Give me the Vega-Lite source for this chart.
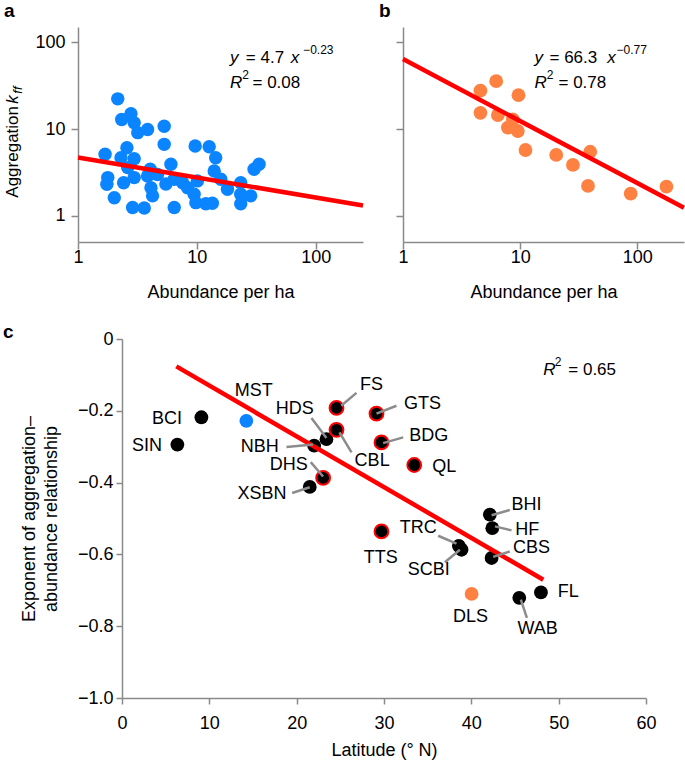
{
  "$schema": "https://vega.github.io/schema/vega-lite/v6.json",
  "description": "Aggregation versus abundance (a, b) and exponent versus latitude (c)",
  "padding": {"left": 3, "top": 2, "right": 0, "bottom": 0},
  "config": {
    "font": "Liberation Sans",
    "view": {"stroke": null},
    "axis": {
      "grid": false,
      "domainColor": "#8a8a8a",
      "tickColor": "#8a8a8a",
      "domainWidth": 1.5,
      "tickWidth": 1.5,
      "labelColor": "#000000",
      "titleColor": "#000000",
      "labelFont": "Liberation Sans",
      "titleFont": "Liberation Sans",
      "labelFontSize": 18,
      "titleFontSize": 18,
      "titleFontWeight": "normal",
      "labelFlush": false
    },
    "title": {"font": "Liberation Sans", "fontSize": 19, "fontWeight": "bold", "anchor": "start", "frame": "group", "baseline": "alphabetic", "color": "#000000"}
  },
  "columns": 1,
  "spacing": 21,
  "concat": [
    {
      "bounds": "flush",
      "spacing": 40,
      "hconcat": [
        {
          "width": 285,
          "height": 215,
          "title": {"text": "a", "dx": -74, "offset": 6},
          "layer": [
            {
              "data": {"values": [
                {"abundance": 2.16, "aggregation": 22.3},
                {"abundance": 2.33, "aggregation": 12.9},
                {"abundance": 2.79, "aggregation": 15.0},
                {"abundance": 2.97, "aggregation": 11.8},
                {"abundance": 3.18, "aggregation": 9.1},
                {"abundance": 3.85, "aggregation": 9.9},
                {"abundance": 5.31, "aggregation": 10.8},
                {"abundance": 5.31, "aggregation": 6.67},
                {"abundance": 1.69, "aggregation": 5.12},
                {"abundance": 2.58, "aggregation": 6.1},
                {"abundance": 2.30, "aggregation": 4.68},
                {"abundance": 2.97, "aggregation": 4.56},
                {"abundance": 4.05, "aggregation": 3.44},
                {"abundance": 6.05, "aggregation": 3.93},
                {"abundance": 1.78, "aggregation": 2.76},
                {"abundance": 2.42, "aggregation": 2.41},
                {"abundance": 2.97, "aggregation": 2.76},
                {"abundance": 3.85, "aggregation": 2.88},
                {"abundance": 1.75, "aggregation": 2.31},
                {"abundance": 2.02, "aggregation": 1.62},
                {"abundance": 4.24, "aggregation": 1.70},
                {"abundance": 4.11, "aggregation": 2.11},
                {"abundance": 2.88, "aggregation": 1.25},
                {"abundance": 3.61, "aggregation": 1.23},
                {"abundance": 6.45, "aggregation": 1.25},
                {"abundance": 9.68, "aggregation": 6.38},
                {"abundance": 12.7, "aggregation": 6.26},
                {"abundance": 14.4, "aggregation": 4.68},
                {"abundance": 14.0, "aggregation": 3.29},
                {"abundance": 15.9, "aggregation": 2.64},
                {"abundance": 18.1, "aggregation": 2.03},
                {"abundance": 7.59, "aggregation": 2.41},
                {"abundance": 8.35, "aggregation": 2.11},
                {"abundance": 9.49, "aggregation": 1.78},
                {"abundance": 9.81, "aggregation": 1.42},
                {"abundance": 11.9, "aggregation": 1.38},
                {"abundance": 13.5, "aggregation": 1.40},
                {"abundance": 10.1, "aggregation": 2.53},
                {"abundance": 23.4, "aggregation": 2.41},
                {"abundance": 23.4, "aggregation": 1.78},
                {"abundance": 23.4, "aggregation": 1.38},
                {"abundance": 28.4, "aggregation": 1.70},
                {"abundance": 30.3, "aggregation": 3.44},
                {"abundance": 33.4, "aggregation": 3.93},
                {"abundance": 6.45, "aggregation": 2.64},
                {"abundance": 2.62, "aggregation": 3.6},
                {"abundance": 4.67, "aggregation": 3.0},
                {"abundance": 5.49, "aggregation": 2.33}
              ]},
              "mark": {"type": "circle", "size": 180, "color": "#0a84ff", "opacity": 1},
              "encoding": {
                "x": {"field": "abundance", "type": "quantitative",
                      "scale": {"type": "log", "domain": [1, 250], "nice": false},
                      "axis": {"values": [1, 10, 100], "format": "d", "title": "Abundance per ha", "tickSize": 7, "labelPadding": -1, "titlePadding": 17.5}},
                "y": {"field": "aggregation", "type": "quantitative",
                      "scale": {"type": "log", "domain": [0.5, 150], "nice": false},
                      "axis": {"values": [1, 10, 100], "format": "d", "title": null, "tickSize": 7, "labelPadding": 6}}
              }
            },
            {
              "data": {"values": [{"abundance": 1, "aggregation": 4.7}, {"abundance": 250, "aggregation": 1.32}]},
              "mark": {"type": "line", "color": "#ff0000", "strokeWidth": 4.5, "strokeCap": "butt"},
              "encoding": {
                "x": {"field": "abundance", "type": "quantitative"},
                "y": {"field": "aggregation", "type": "quantitative"}
              }
            },
            {
              "data": {"values": [{}]},
              "mark": {"type": "text", "text": "Aggregation", "angle": 270, "align": "left", "baseline": "alphabetic", "fontSize": 17},
              "encoding": {"x": {"datum": 0.311}, "y": {"datum": 1.62}}
            },
            {
              "data": {"values": [{}]},
              "mark": {"type": "text", "text": "k", "angle": 270, "align": "left", "baseline": "alphabetic", "fontSize": 17, "fontStyle": "italic", "dx": 94},
              "encoding": {"x": {"datum": 0.311}, "y": {"datum": 1.62}}
            },
            {
              "data": {"values": [{}]},
              "mark": {"type": "text", "text": "ff", "angle": 270, "align": "left", "baseline": "alphabetic", "fontSize": 13, "fontStyle": "italic", "dx": 104, "dy": 4},
              "encoding": {"x": {"datum": 0.311}, "y": {"datum": 1.62}}
            },
            {
              "data": {"values": [{}]},
              "mark": {"type": "text", "text": "y", "align": "left", "baseline": "alphabetic", "fontSize": 17, "fontStyle": "italic"},
              "encoding": {"x": {"datum": 19.05}, "y": {"datum": 57.8}}
            },
            {
              "data": {"values": [{}]},
              "mark": {"type": "text", "text": "= 4.7", "align": "left", "baseline": "alphabetic", "fontSize": 17, "dx": 15.7},
              "encoding": {"x": {"datum": 19.05}, "y": {"datum": 57.8}}
            },
            {
              "data": {"values": [{}]},
              "mark": {"type": "text", "text": "x", "align": "left", "baseline": "alphabetic", "fontSize": 17, "fontStyle": "italic", "dx": 60.7},
              "encoding": {"x": {"datum": 19.05}, "y": {"datum": 57.8}}
            },
            {
              "data": {"values": [{}]},
              "mark": {"type": "text", "text": "−0.23", "align": "left", "baseline": "alphabetic", "fontSize": 12, "dx": 73, "dy": -9},
              "encoding": {"x": {"datum": 19.05}, "y": {"datum": 57.8}}
            },
            {
              "data": {"values": [{}]},
              "mark": {"type": "text", "text": "R", "align": "left", "baseline": "alphabetic", "fontSize": 17, "fontStyle": "italic"},
              "encoding": {"x": {"datum": 19.05}, "y": {"datum": 29.4}}
            },
            {
              "data": {"values": [{}]},
              "mark": {"type": "text", "text": "2", "align": "left", "baseline": "alphabetic", "fontSize": 12, "dx": 12.2, "dy": -9},
              "encoding": {"x": {"datum": 19.05}, "y": {"datum": 29.4}}
            },
            {
              "data": {"values": [{}]},
              "mark": {"type": "text", "text": "= 0.08", "align": "left", "baseline": "alphabetic", "fontSize": 17, "dx": 22.4},
              "encoding": {"x": {"datum": 19.05}, "y": {"datum": 29.4}}
            }
          ]
        },
        {
          "width": 281,
          "height": 215,
          "title": {"text": "b", "dx": -24, "offset": 6},
          "layer": [
            {
              "data": {"values": [
                {"abundance": 4.58, "aggregation": 27.8},
                {"abundance": 6.24, "aggregation": 35.6},
                {"abundance": 9.67, "aggregation": 24.6},
                {"abundance": 4.58, "aggregation": 15.4},
                {"abundance": 6.45, "aggregation": 14.5},
                {"abundance": 8.66, "aggregation": 12.9},
                {"abundance": 7.85, "aggregation": 10.4},
                {"abundance": 9.55, "aggregation": 9.5},
                {"abundance": 11.1, "aggregation": 5.74},
                {"abundance": 20.3, "aggregation": 5.03},
                {"abundance": 28.2, "aggregation": 3.86},
                {"abundance": 39.6, "aggregation": 5.48},
                {"abundance": 37.9, "aggregation": 2.21},
                {"abundance": 87.7, "aggregation": 1.80},
                {"abundance": 177, "aggregation": 2.17}
              ]},
              "mark": {"type": "circle", "size": 190, "color": "#ff8142", "opacity": 1},
              "encoding": {
                "x": {"field": "abundance", "type": "quantitative",
                      "scale": {"type": "log", "domain": [1, 250], "nice": false},
                      "axis": {"values": [1, 10, 100], "format": "d", "title": "Abundance per ha", "tickSize": 7, "labelPadding": -1, "titlePadding": 17.5}},
                "y": {"field": "aggregation", "type": "quantitative",
                      "scale": {"type": "log", "domain": [0.5, 150], "nice": false},
                      "axis": {"values": [1, 10, 100], "labels": false, "title": null, "tickSize": 7, "minExtent": 0}}
              }
            },
            {
              "data": {"values": [{"abundance": 1, "aggregation": 64}, {"abundance": 250, "aggregation": 1.24}]},
              "mark": {"type": "line", "color": "#ff0000", "strokeWidth": 4.5, "strokeCap": "butt"},
              "encoding": {
                "x": {"field": "abundance", "type": "quantitative"},
                "y": {"field": "aggregation", "type": "quantitative"}
              }
            },
            {
              "data": {"values": [{}]},
              "mark": {"type": "text", "text": "y", "align": "left", "baseline": "alphabetic", "fontSize": 17, "fontStyle": "italic"},
              "encoding": {"x": {"datum": 13.25}, "y": {"datum": 57.8}}
            },
            {
              "data": {"values": [{}]},
              "mark": {"type": "text", "text": "= 66.3", "align": "left", "baseline": "alphabetic", "fontSize": 17, "dx": 15},
              "encoding": {"x": {"datum": 13.25}, "y": {"datum": 57.8}}
            },
            {
              "data": {"values": [{}]},
              "mark": {"type": "text", "text": "x", "align": "left", "baseline": "alphabetic", "fontSize": 17, "fontStyle": "italic", "dx": 72.7},
              "encoding": {"x": {"datum": 13.25}, "y": {"datum": 57.8}}
            },
            {
              "data": {"values": [{}]},
              "mark": {"type": "text", "text": "−0.77", "align": "left", "baseline": "alphabetic", "fontSize": 12, "dx": 82, "dy": -9},
              "encoding": {"x": {"datum": 13.25}, "y": {"datum": 57.8}}
            },
            {
              "data": {"values": [{}]},
              "mark": {"type": "text", "text": "R", "align": "left", "baseline": "alphabetic", "fontSize": 17, "fontStyle": "italic"},
              "encoding": {"x": {"datum": 13.25}, "y": {"datum": 29.4}}
            },
            {
              "data": {"values": [{}]},
              "mark": {"type": "text", "text": "2", "align": "left", "baseline": "alphabetic", "fontSize": 12, "dx": 12.2, "dy": -9},
              "encoding": {"x": {"datum": 13.25}, "y": {"datum": 29.4}}
            },
            {
              "data": {"values": [{}]},
              "mark": {"type": "text", "text": "= 0.78", "align": "left", "baseline": "alphabetic", "fontSize": 17, "dx": 24},
              "encoding": {"x": {"datum": 13.25}, "y": {"datum": 29.4}}
            }
          ]
        }
      ]
    },
    {
      "bounds": "flush",
      "spacing": 0,
      "hconcat": [
        {
          "width": 44,
          "height": 359,
          "data": {"values": [{}]},
          "mark": {"type": "point", "opacity": 0},
          "encoding": {}
        },
        {
          "width": 524,
          "height": 359,
          "title": {"text": "c", "dx": -119, "offset": -12},
          "data": {"values": [
            {"site": "BCI", "latitude": 9.09, "exponent": -0.218, "kind": "plain", "tx": 5.16, "ty": -0.223},
            {"site": "SIN", "latitude": 6.34, "exponent": -0.294, "kind": "plain", "tx": 2.86, "ty": -0.299},
            {"site": "MST", "latitude": 14.24, "exponent": -0.228, "kind": "blue", "tx": 15.08, "ty": -0.144},
            {"site": "HDS", "latitude": 23.41, "exponent": -0.279, "kind": "plain", "tx": 19.78, "ty": -0.194, "lx1": 21.69, "ly1": -0.220, "lx2": 23.41, "ly2": -0.276},
            {"site": "NBH", "latitude": 22.0, "exponent": -0.297, "kind": "plain", "tx": 15.77, "ty": -0.301, "lx1": 18.83, "ly1": -0.301, "lx2": 21.88, "ly2": -0.294},
            {"site": "FS", "latitude": 24.56, "exponent": -0.192, "kind": "outlined", "tx": 28.57, "ty": -0.127, "lx1": 25.1, "ly1": -0.186, "lx2": 26.85, "ly2": -0.150},
            {"site": "CBL", "latitude": 24.56, "exponent": -0.253, "kind": "outlined", "tx": 28.64, "ty": -0.341, "lx1": 24.9, "ly1": -0.26, "lx2": 26.28, "ly2": -0.316},
            {"site": "GTS", "latitude": 29.14, "exponent": -0.208, "kind": "outlined", "tx": 34.41, "ty": -0.181, "lx1": 29.14, "ly1": -0.208, "lx2": 31.43, "ly2": -0.186},
            {"site": "BDG", "latitude": 29.71, "exponent": -0.288, "kind": "outlined", "tx": 35.13, "ty": -0.269, "lx1": 29.9, "ly1": -0.290, "lx2": 32.2, "ly2": -0.274},
            {"site": "QL", "latitude": 33.46, "exponent": -0.351, "kind": "outlined", "tx": 36.9, "ty": -0.357},
            {"site": "XSBN", "latitude": 21.5, "exponent": -0.412, "kind": "plain", "tx": 16.04, "ty": -0.431, "lx1": 19.48, "ly1": -0.429, "lx2": 21.5, "ly2": -0.413},
            {"site": "DHS", "latitude": 23.03, "exponent": -0.387, "kind": "outlined", "tx": 19.09, "ty": -0.350, "lx1": 21.61, "ly1": -0.343, "lx2": 23.03, "ly2": -0.383},
            {"site": "TTS", "latitude": 29.71, "exponent": -0.536, "kind": "outlined", "tx": 29.63, "ty": -0.610},
            {"site": "TRC", "latitude": 38.57, "exponent": -0.576, "kind": "plain", "tx": 33.92, "ty": -0.527, "lx1": 36.2, "ly1": -0.548, "lx2": 38.3, "ly2": -0.570},
            {"site": "SCBI", "latitude": 38.88, "exponent": -0.587, "kind": "plain", "tx": 35.13, "ty": -0.643, "lx1": 36.97, "ly1": -0.622, "lx2": 38.69, "ly2": -0.587},
            {"site": "BHI", "latitude": 42.12, "exponent": -0.489, "kind": "plain", "tx": 46.33, "ty": -0.462, "lx1": 42.32, "ly1": -0.491, "lx2": 44.41, "ly2": -0.476},
            {"site": "HF", "latitude": 42.4, "exponent": -0.527, "kind": "plain", "tx": 46.4, "ty": -0.531, "lx1": 42.7, "ly1": -0.522, "lx2": 44.6, "ly2": -0.533},
            {"site": "CBS", "latitude": 42.32, "exponent": -0.610, "kind": "plain", "tx": 46.9, "ty": -0.582, "lx1": 42.5, "ly1": -0.607, "lx2": 44.4, "ly2": -0.592},
            {"site": "FL", "latitude": 47.97, "exponent": -0.706, "kind": "plain", "tx": 51.1, "ty": -0.706},
            {"site": "WAB", "latitude": 45.49, "exponent": -0.721, "kind": "plain", "tx": 47.59, "ty": -0.808, "lx1": 45.67, "ly1": -0.726, "lx2": 46.36, "ly2": -0.777},
            {"site": "DLS", "latitude": 40.03, "exponent": -0.710, "kind": "orange", "tx": 39.91, "ty": -0.775}
          ]},
          "layer": [
            {
              "mark": {"type": "circle", "size": 190, "opacity": 1, "strokeWidth": 2},
              "encoding": {
                "x": {"field": "latitude", "type": "quantitative",
                      "scale": {"domain": [0, 60], "nice": false, "zero": false},
                      "axis": {"values": [0, 10, 20, 30, 40, 50, 60], "title": "Latitude (° N)", "tickSize": 6, "labelPadding": 10.7, "titlePadding": 8.6}},
                "y": {"field": "exponent", "type": "quantitative",
                      "scale": {"domain": [-1, 0], "nice": false},
                      "axis": {"values": [0, -0.2, -0.4, -0.6, -0.8, -1], "labelExpr": "datum.value == 0 ? '0' : format(datum.value, '.1f')", "title": ["Exponent of aggregation–", "abundance relationship"], "titleLineHeight": 22, "tickSize": 6, "labelPadding": 3, "titlePadding": 17}},
                "fill": {"field": "kind", "type": "nominal", "legend": null,
                         "scale": {"domain": ["plain", "outlined", "blue", "orange"], "range": ["#000000", "#000000", "#0a84ff", "#ff8142"]}},
                "stroke": {"field": "kind", "type": "nominal", "legend": null,
                           "scale": {"domain": ["plain", "outlined", "blue", "orange"], "range": ["rgba(0,0,0,0)", "#ff0000", "rgba(0,0,0,0)", "rgba(0,0,0,0)"]}}
              }
            },
            {
              "data": {"values": [{"latitude": 6.22, "exponent": -0.0763}, {"latitude": 48.24, "exponent": -0.6705}]},
              "mark": {"type": "line", "color": "#ff0000", "strokeWidth": 4.5, "strokeCap": "butt"},
              "encoding": {
                "x": {"field": "latitude", "type": "quantitative"},
                "y": {"field": "exponent", "type": "quantitative"}
              }
            },
            {
              "transform": [{"filter": "isValid(datum.lx1)"}],
              "mark": {"type": "rule", "color": "#8c8c8c", "strokeWidth": 2.5},
              "encoding": {
                "x": {"field": "lx1", "type": "quantitative"},
                "y": {"field": "ly1", "type": "quantitative"},
                "x2": {"field": "lx2"},
                "y2": {"field": "ly2"}
              }
            },
            {
              "mark": {"type": "text", "fontSize": 18, "align": "center", "baseline": "middle", "color": "#000000"},
              "encoding": {
                "x": {"field": "tx", "type": "quantitative"},
                "y": {"field": "ty", "type": "quantitative"},
                "text": {"field": "site"}
              }
            },
            {
              "data": {"values": [{}]},
              "mark": {"type": "text", "text": "R", "align": "left", "baseline": "alphabetic", "fontSize": 17, "fontStyle": "italic"},
              "encoding": {"x": {"datum": 48.24}, "y": {"datum": -0.0994}}
            },
            {
              "data": {"values": [{}]},
              "mark": {"type": "text", "text": "2", "align": "left", "baseline": "alphabetic", "fontSize": 12, "dx": 11.5, "dy": -9},
              "encoding": {"x": {"datum": 48.24}, "y": {"datum": -0.0994}}
            },
            {
              "data": {"values": [{}]},
              "mark": {"type": "text", "text": "= 0.65", "align": "left", "baseline": "alphabetic", "fontSize": 17, "dx": 25},
              "encoding": {"x": {"datum": 48.24}, "y": {"datum": -0.0994}}
            }
          ]
        }
      ]
    }
  ]
}
